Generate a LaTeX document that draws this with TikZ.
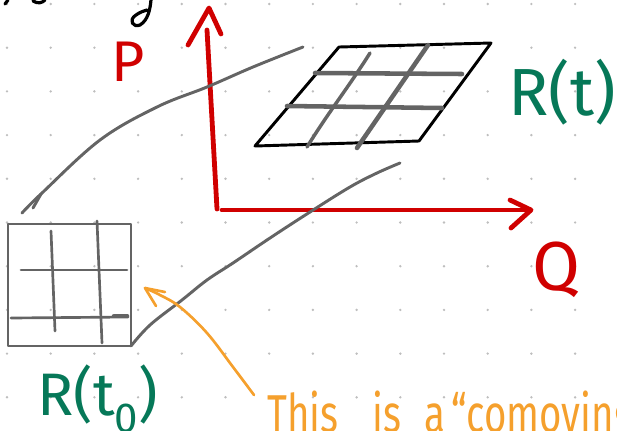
\documentclass[tikz,border=0pt]{standalone}
\usepackage{fontspec}
\setmainfont{Fira Sans}
\usetikzlibrary{arrows.meta,calc,positioning}
\definecolor{inkred}{RGB}{208,0,0}
\definecolor{inkgreen}{RGB}{6,120,88}
\definecolor{inkorange}{RGB}{245,160,45}
\definecolor{inkgray}{RGB}{100,100,100}
\definecolor{dotgray}{RGB}{190,190,190}

\begin{document}
\begin{tikzpicture}[x=0.75pt,y=-0.75pt,line cap=round,line join=round,
    axisline/.style={inkred,line width=3.6pt},
    flowline/.style={inkgray,line width=2.2pt},
    cellline/.style={inkgray,line width=3.4pt},
    boxline/.style={inkgray,line width=2pt},
    inklabel/.style={inner sep=0pt,font=\fontsize{#1}{#1}\selectfont},
    inklabel/.default=44]
  \useasboundingbox (0,0) rectangle (617,430);
  \clip (0,0) rectangle (617,430);
  % dotted paper
  \foreach \i in {0,...,13}
    \foreach \j in {0,...,9}
      \fill[dotgray] (7+43.7*\i,4+43.7*\j) circle (1pt);
  % cut-off writing at the top
  \draw[black,line width=2.4pt] (5,4) -- (8,0);
  \draw[black,line width=2.4pt] (33,1) .. controls (38,4) and (42,3) .. (45,0);
  \draw[black,line width=2.4pt] (151,0) .. controls (150,10) and (148,20) .. (140,25)
    .. controls (133,28) and (128,20) .. (136,15) .. controls (140,12) and (144,11) .. (147,10);
  % axes
  \coordinate (origin) at (217,209);
  \coordinate (ptop) at (207,30);
  \coordinate (qend) at (526,210);
  \draw[axisline] (origin) -- (ptop);
  \draw[axisline] (188,45) -- (209,8) -- (221,34);
  \draw[axisline] (222,210) -- (qend);
  \draw[axisline] (510,200) -- (531,210) -- (511,228);
  \node[inklabel=43,inkred] (plabel) at (128,62) {P};
  \node[inklabel=52,inkred] (qlabel) at (556,270) {Q};
  % region at time t
  \coordinate (a1) at (255,146);
  \coordinate (a2) at (419,141);
  \coordinate (a3) at (491,43);
  \coordinate (a4) at (339,47);
  \draw[black,line width=2.2pt] (a1) -- (a2) -- (a3) -- (a4) -- cycle;
  \draw[cellline] (315,73) -- (462,74);
  \draw[cellline] (287,106) -- (442,108);
  \draw[flowline,line width=2.6pt] (370,53) .. controls (350,85) and (330,110) .. (307,147);
  \draw[cellline] (428,45) -- (357,148);
  \node[inklabel=50,inkgreen] (rt) at (562,92) {R(t)};
  % region at time t0
  \coordinate (b1) at (8,224);
  \coordinate (b2) at (131,346);
  \draw[boxline] (b1) rectangle (b2);
  \draw[boxline] (51,231) -- (55,331);
  \draw[boxline] (97,221) -- (102,343);
  \draw[boxline] (21,270) -- (127,270);
  \draw[boxline] (11,318) -- (128,317);
  \draw[boxline,line width=3.4pt] (114,316) -- (127,316);
  \node[inklabel=45,inkgreen,anchor=base west] (rt0) at (37,415) {R(t\textsubscript{0})};
  % flow lines between the two regions
  \draw[flowline] plot[smooth,tension=0.6] coordinates
    {(22,213) (42,193) (100,140) (157,107) (207,87) (253,67) (303,47)};
  \draw[flowline] (33,208) -- (41,194);
  \draw[flowline] plot[smooth,tension=0.6] coordinates
    {(b2) (150,325) (182,300) (207,280) (233,263) (270,238) (310,212) (350,187) (377,173) (400,163)};
  % comment in orange
  \node[inklabel=40,inkorange,anchor=base west] (note) at (267,432)
    {\scalebox{0.72}[1]{This\hspace{36pt}is\hspace{24pt}a\hspace{6pt}``comoving''}};
  \coordinate (notetip) at (145,288);
  \draw[inkorange,line width=2pt] plot[smooth,tension=0.6] coordinates
    {(254,395) (233,367) (207,333) (180,307) (160,295) (notetip)};
  \draw[inkorange,line width=2pt] (165,292) -- (notetip) -- (156,306);
\end{tikzpicture}
\end{document}
